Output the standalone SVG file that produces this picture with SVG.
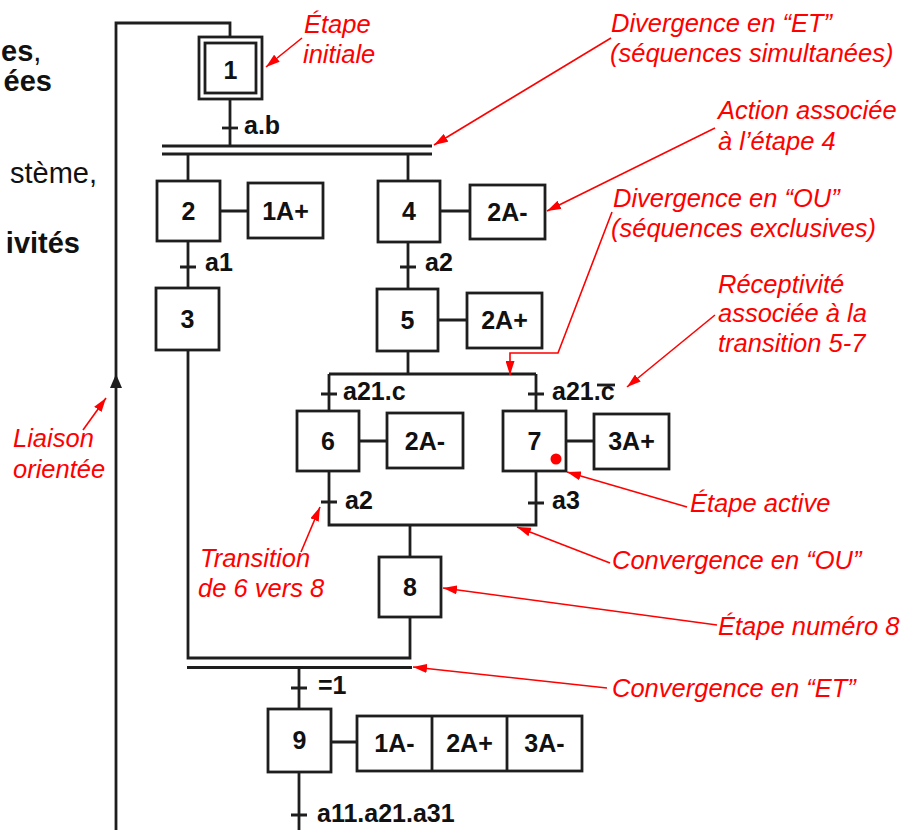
<svg xmlns="http://www.w3.org/2000/svg" width="919" height="830" viewBox="0 0 919 830">
<defs>
<style>
.ln{stroke:#1e1e1e;stroke-width:2.8;fill:none}
.box{stroke:#1e1e1e;stroke-width:2.8;fill:#fff}
.lbl{font-family:"Liberation Sans",Arial,sans-serif;font-weight:bold;font-size:25px;fill:#111}
.num{font-family:"Liberation Sans",Arial,sans-serif;font-weight:bold;font-size:25px;fill:#111;text-anchor:middle}
.ann{font-family:"Liberation Sans",Arial,sans-serif;font-style:italic;font-size:25.5px;fill:#ff0000}
.side{font-family:"Liberation Sans",Arial,sans-serif;font-size:29px;fill:#111}
.red{stroke:#ff0000;stroke-width:1.6;fill:none}
</style>
<marker id="ah" viewBox="0 0 14 9" refX="14" refY="4.5" markerWidth="14" markerHeight="9" markerUnits="userSpaceOnUse" orient="auto"><path d="M0,0 L14,4.5 L0,9 z" fill="#ff0000"/></marker>
</defs>
<rect x="0" y="0" width="919" height="830" fill="#fff"/>

<g id="side-text">
<text class="side" x="1" y="61"><tspan font-weight="bold">es</tspan>,</text>
<text class="side" x="52" y="91" font-weight="bold" text-anchor="end">ées</text>
<text class="side" x="97" y="183" text-anchor="end">stème,</text>
<text class="side" x="80" y="253" font-weight="bold" text-anchor="end">ivités</text>
</g>

<g id="connectors">
<path class="ln" d="M116,830 V23 H230 V37"/>
<polygon points="116,374 110,388 122,388" fill="#1e1e1e"/>
<path class="ln" d="M230,99 V146"/>
<path class="ln" d="M222,128 H238"/>
<path class="ln" d="M162,146 H432 M162,154 H432"/>
<path class="ln" d="M188,154 V181"/>
<path class="ln" d="M188,241 V288 M180,267 H196"/>
<path class="ln" d="M408,154 V181"/>
<path class="ln" d="M408,242 V289 M400,267 H416"/>
<path class="ln" d="M408,351 V374"/>
<path class="ln" d="M329,374 H536"/>
<path class="ln" d="M329,374 V411 M321,394 H337"/>
<path class="ln" d="M536,374 V411 M528,394 H544"/>
<path class="ln" d="M329,471 V525 H536 V471 M321,502 H337 M528,503 H544"/>
<path class="ln" d="M410,525 V557"/>
<path class="ln" d="M188,350 V658 H410 V617"/>
<path class="ln" d="M187,667.5 H412"/>
<path class="ln" d="M299,667.5 V709 M291,688 H307"/>
<path class="ln" d="M299,772 V830 M291,815 H307"/>
<path class="ln" d="M220,211 H248 M440,211 H470 M438,320 H467 M359,441 H387 M566,441 H594 M331,742 H357"/>
</g>

<g id="transitions">
<text class="lbl" x="244" y="134">a.b</text>
<text class="lbl" x="205" y="271">a1</text>
<text class="lbl" x="425" y="271">a2</text>
<text class="lbl" x="343" y="400">a21.c</text>
<text class="lbl" x="552" y="400">a21.c</text>
<path class="ln" d="M597,385 H615" stroke-width="2"/>
<text class="lbl" x="345" y="509">a2</text>
<text class="lbl" x="552" y="509">a3</text>
<text class="lbl" x="318" y="694">=1</text>
<text class="lbl" x="317" y="822">a11.a21.a31</text>
</g>

<g id="step1">
<rect class="box" x="199" y="37" width="63" height="62"/>
<rect class="box" x="205" y="43" width="51" height="50"/>
<text class="num" x="230.5" y="79">1</text>
</g>
<g id="step2"><rect class="box" x="157" y="181" width="63" height="60"/><text class="num" x="188.5" y="220">2</text></g>
<g id="step3"><rect class="box" x="156" y="288" width="63" height="62"/><text class="num" x="187.5" y="328">3</text></g>
<g id="step4"><rect class="box" x="378" y="181" width="62" height="61"/><text class="num" x="409" y="220">4</text></g>
<g id="step5"><rect class="box" x="377" y="289" width="61" height="62"/><text class="num" x="407.5" y="329">5</text></g>
<g id="step6"><rect class="box" x="297" y="411" width="62" height="60"/><text class="num" x="328" y="450">6</text></g>
<g id="step7"><rect class="box" x="503" y="411" width="63" height="60"/><text class="num" x="534.5" y="450">7</text><circle cx="556" cy="459" r="5.5" fill="#ff0000"/></g>
<g id="step8"><rect class="box" x="379" y="557" width="62" height="60"/><text class="num" x="410" y="596">8</text></g>
<g id="step9"><rect class="box" x="268" y="709" width="63" height="63"/><text class="num" x="299.5" y="749">9</text></g>

<g id="action2"><rect class="box" x="248" y="183" width="75" height="55"/><text class="num" x="285.5" y="220">1A+</text></g>
<g id="action4"><rect class="box" x="470" y="185" width="75" height="54"/><text class="num" x="507.5" y="221">2A-</text></g>
<g id="action5"><rect class="box" x="467" y="293" width="75" height="55"/><text class="num" x="504.5" y="329">2A+</text></g>
<g id="action6"><rect class="box" x="387" y="413" width="76" height="55"/><text class="num" x="425" y="450">2A-</text></g>
<g id="action7"><rect class="box" x="594" y="414" width="75" height="55"/><text class="num" x="631.5" y="450">3A+</text></g>
<g id="action9">
<rect class="box" x="357" y="716" width="225" height="55"/>
<path class="ln" d="M432,716 V771 M507,716 V771"/>
<text class="num" x="394.5" y="752">1A-</text>
<text class="num" x="469.5" y="752">2A+</text>
<text class="num" x="544.5" y="752">3A-</text>
</g>

<g id="annotations">
<path class="red" marker-end="url(#ah)" d="M302,38 L266,67"/>
<path class="red" marker-end="url(#ah)" d="M611,38 L434,145"/>
<path class="red" marker-end="url(#ah)" d="M715,128 L547,211"/>
<path class="red" marker-end="url(#ah)" d="M612,212 L558,353 H510 V375"/>
<path class="red" marker-end="url(#ah)" d="M715,315 L627,387"/>
<path class="red" marker-end="url(#ah)" d="M83,430 L106,398"/>
<path class="red" marker-end="url(#ah)" d="M687,507 L567,472"/>
<path class="red" marker-end="url(#ah)" d="M610,563 L517,527"/>
<path class="red" marker-end="url(#ah)" d="M301,552 L320,507"/>
<path class="red" marker-end="url(#ah)" d="M717,625 L443,588"/>
<path class="red" marker-end="url(#ah)" d="M607,688 L413,667"/>
<text class="ann" x="304" y="33">Étape</text>
<text class="ann" x="303" y="63">initiale</text>
<text class="ann" x="611" y="32">Divergence en “ET”</text>
<text class="ann" x="610" y="62">(séquences simultanées)</text>
<text class="ann" x="718" y="119">Action associée</text>
<text class="ann" x="718" y="150">à l’étape 4</text>
<text class="ann" x="613" y="207">Divergence en “OU”</text>
<text class="ann" x="611" y="237">(séquences exclusives)</text>
<text class="ann" x="718" y="293">Réceptivité</text>
<text class="ann" x="718" y="322">associée à la</text>
<text class="ann" x="718" y="352">transition 5-7</text>
<text class="ann" x="690" y="512">Étape active</text>
<text class="ann" x="612" y="569">Convergence en “OU”</text>
<text class="ann" x="718" y="635">Étape numéro 8</text>
<text class="ann" x="612" y="697">Convergence en “ET”</text>
<text class="ann" x="13" y="447">Liaison</text>
<text class="ann" x="13" y="478">orientée</text>
<text class="ann" x="200" y="567">Transition</text>
<text class="ann" x="198" y="597">de 6 vers 8</text>
</g>
</svg>
